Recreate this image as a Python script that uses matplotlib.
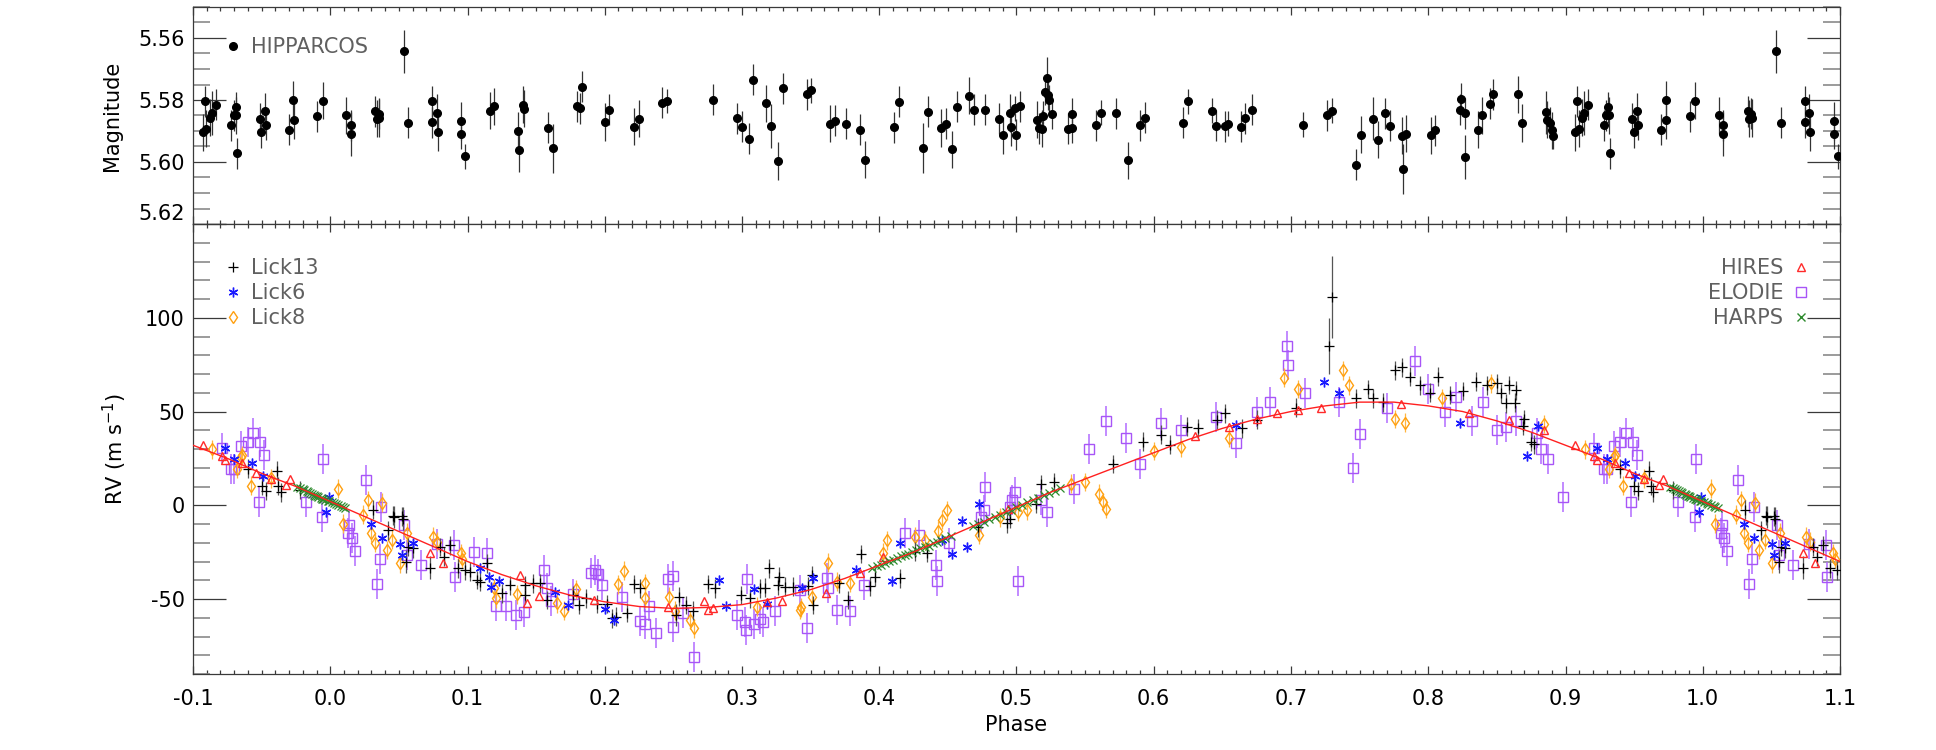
import numpy as np
import matplotlib
matplotlib.use("Agg")
import matplotlib.pyplot as plt
from matplotlib.ticker import MultipleLocator, FormatStrFormatter, FuncFormatter
from matplotlib.lines import Line2D

# ---------------- HIPPARCOS photometry (phase in [0,1)) ----------------
hip_phase = [
    0.0115, 0.0151, 0.0151, 0.0327, 0.0337, 0.0353, 0.0356, 0.0535, 0.0570, 0.0743,
    0.0743, 0.0776, 0.0782, 0.0954, 0.0954, 0.0984, 0.1163, 0.1195, 0.1371, 0.1377,
    0.1403, 0.1410, 0.1589, 0.1621, 0.1797, 0.1823, 0.1833, 0.2002, 0.2034, 0.2213,
    0.2246, 0.2418, 0.2457, 0.2789, 0.2964, 0.3003, 0.3049, 0.3081, 0.3176, 0.3211,
    0.3260, 0.3296, 0.3472, 0.3504, 0.3644, 0.3676, 0.3758, 0.3860, 0.3898, 0.4107,
    0.4144, 0.4316, 0.4353, 0.4447, 0.4484, 0.4530, 0.4563, 0.4656, 0.4693, 0.4767,
    0.4870, 0.4898, 0.4953, 0.4963, 0.4986, 0.5000, 0.5023, 0.5153, 0.5167, 0.5186,
    0.5195, 0.5205, 0.5223, 0.5233, 0.5237, 0.5256, 0.5377, 0.5405, 0.5405, 0.5581,
    0.5614, 0.5726, 0.5809, 0.5898, 0.5935, 0.6214, 0.6247, 0.6423, 0.6456, 0.6516,
    0.6544, 0.6633, 0.6665, 0.6716, 0.7088, 0.7265, 0.7298, 0.7474, 0.7507, 0.7600,
    0.7633, 0.7684, 0.7721, 0.7809, 0.7819, 0.7837, 0.8019, 0.8051, 0.8233, 0.8237,
    0.8265, 0.8265, 0.8363, 0.8395, 0.8447, 0.8474, 0.8651, 0.8684, 0.8860, 0.8865,
    0.8888, 0.8902, 0.8907, 0.9070, 0.9084, 0.9098, 0.9121, 0.9135, 0.9167, 0.9279,
    0.9298, 0.9312, 0.9316, 0.9321, 0.9488, 0.9498, 0.9521, 0.9530, 0.9698, 0.9730,
    0.9735, 0.9907, 0.9944]
hip_mag = [
    5.5849, 5.5882, 5.5910, 5.5837, 5.5860, 5.5845, 5.5858, 5.5643, 5.5873, 5.5804,
    5.5871, 5.5842, 5.5904, 5.5868, 5.5909, 5.5981, 5.5834, 5.5820, 5.5900, 5.5961,
    5.5815, 5.5828, 5.5890, 5.5956, 5.5820, 5.5827, 5.5758, 5.5871, 5.5832, 5.5886,
    5.5860, 5.5809, 5.5803, 5.5799, 5.5859, 5.5886, 5.5925, 5.5734, 5.5810, 5.5884,
    5.5997, 5.5762, 5.5782, 5.5769, 5.5876, 5.5867, 5.5876, 5.5896, 5.5992, 5.5888,
    5.5805, 5.5955, 5.5838, 5.5890, 5.5877, 5.5959, 5.5822, 5.5786, 5.5831, 5.5832,
    5.5860, 5.5914, 5.5842, 5.5887, 5.5827, 5.5912, 5.5820, 5.5863, 5.5891, 5.5893,
    5.5852, 5.5775, 5.5730, 5.5783, 5.5801, 5.5844, 5.5892, 5.5889, 5.5845, 5.5882,
    5.5841, 5.5842, 5.5995, 5.5881, 5.5858, 5.5874, 5.5804, 5.5834, 5.5883, 5.5885,
    5.5877, 5.5886, 5.5859, 5.5831, 5.5880, 5.5849, 5.5835, 5.6009, 5.5912, 5.5860,
    5.5928, 5.5842, 5.5883, 5.5915, 5.6023, 5.5909, 5.5914, 5.5898, 5.5832, 5.5796,
    5.5843, 5.5984, 5.5896, 5.5849, 5.5812, 5.5782, 5.5782, 5.5874, 5.5840, 5.5863,
    5.5874, 5.5898, 5.5917, 5.5904, 5.5804, 5.5892, 5.5857, 5.5842, 5.5815, 5.5882,
    5.5850, 5.5823, 5.5850, 5.5971, 5.5860, 5.5904, 5.5837, 5.5880, 5.5896, 5.5799,
    5.5866, 5.5853, 5.5802]
hip_err = [
    .006, .005, .007, .005, .006, .005, .006, .007, .005, .005,
    .005, .006, .006, .006, .005, .004, .006, .006, .006, .007,
    .006, .006, .005, .008, .005, .005, .005, .006, .005, .006,
    .006, .005, .004, .005, .005, .005, .005, .005, .006, .007,
    .006, .005, .005, .004, .006, .005, .005, .005, .006, .005,
    .005, .008, .005, .006, .005, .006, .005, .006, .005, .005,
    .005, .006, .006, .006, .004, .005, .005, .006, .005, .006,
    .005, .004, .007, .005, .005, .005, .005, .005, .005, .005,
    .004, .005, .006, .005, .005, .005, .004, .004, .005, .005,
    .004, .005, .005, .005, .004, .005, .004, .005, .006, .007,
    .006, .005, .005, .006, .008, .006, .006, .005, .005, .005,
    .005, .007, .006, .006, .005, .005, .006, .006, .007, .006,
    .005, .006, .004, .006, .005, .006, .006, .007, .005, .005,
    .005, .005, .006, .005, .005, .005, .006, .005, .005, .006,
    .006, .005, .006]

# ---------------- Radial velocities (phase in [0,1), m/s) ----------------
lick13_phase = [
    0.031, 0.0424, 0.046, 0.0467, 0.052, 0.053, 0.0555, 0.057, 0.060, 0.073,
    0.080, 0.083, 0.0876, 0.093, 0.098, 0.102, 0.107, 0.109, 0.114, 0.125,
    0.131, 0.142, 0.142, 0.148, 0.153, 0.158, 0.177, 0.181, 0.186, 0.194,
    0.202, 0.205, 0.208, 0.216, 0.221, 0.226, 0.252, 0.254, 0.259, 0.264,
    0.275, 0.280, 0.299, 0.306, 0.313, 0.317, 0.320, 0.326, 0.327, 0.331,
    0.337, 0.348, 0.351, 0.352, 0.371, 0.377, 0.387, 0.393, 0.397, 0.415,
    0.426, 0.435, 0.472, 0.493, 0.495, 0.514, 0.518, 0.527, 0.570, 0.592,
    0.605, 0.612, 0.624, 0.632, 0.646, 0.652, 0.664, 0.675, 0.704, 0.728,
    0.730, 0.747, 0.756, 0.760, 0.767, 0.776, 0.781, 0.787, 0.794, 0.801,
    0.807, 0.816, 0.825, 0.835, 0.843, 0.850, 0.853, 0.857, 0.859, 0.863,
    0.864, 0.869, 0.870, 0.875, 0.877, 0.940, 0.950, 0.953, 0.961, 0.962,
    0.964, 0.978]
lick13_rv = [
    -2.3, -13.3, -5.5, -6.2, -5.8, -7.1, -30.1, -22.2, -23.0, -33.2,
    -22.2, -27.5, -21.3, -33.7, -34.6, -35.5, -39.9, -40.8, -31.0, -47.0,
    -42.6, -42.6, -47.9, -41.7, -41.7, -50.5, -47.9, -53.2, -49.6, -52.7,
    -52.7, -60.3, -59.4, -57.3, -42.0, -44.3, -58.5, -48.8, -53.2, -56.2,
    -42.0, -44.3, -47.9, -49.6, -44.3, -44.0, -33.7, -42.6, -38.1, -43.4,
    -43.4, -43.1, -37.2, -53.2, -41.7, -50.5, -26.0, -43.3, -38.0, -38.9,
    -24.7, -25.3, -11.8, -9.7, -7.1, 0.9, 11.1, 12.4, 22.0, 34.0,
    37.6, 32.4, 42.0, 41.0, 45.6, 49.0, 41.0, 45.6, 52.0, 85.0,
    111.0, 57.0, 62.0, 57.0, 55.0, 72.0, 73.6, 68.6, 64.0, 60.0,
    68.6, 58.8, 61.0, 66.0, 64.0, 65.0, 59.7, 54.3, 64.1, 54.7,
    61.4, 42.3, 45.8, 33.9, 32.6, 19.6, 10.4, 7.6, 18.4, 10.3,
    6.9, 8.2]
lick13_err = [
    5, 5, 5, 6, 5, 6, 6, 5, 5, 6,
    5, 5, 5, 5, 5, 5, 5, 5, 5, 5,
    5, 5, 5, 5, 5, 5, 5, 5, 5, 5,
    5, 5, 5, 5, 5, 5, 6, 5, 5, 5,
    5, 5, 5, 5, 5, 5, 5, 5, 5, 5,
    5, 5, 5, 5, 5, 5, 5, 5, 5, 5,
    5, 5, 5, 5, 5, 5, 5, 5, 5, 5,
    5, 5, 5, 5, 5, 5, 5, 5, 5, 15,
    22, 5, 5, 5, 5, 5, 5, 5, 5, 5,
    5, 5, 5, 5, 5, 5, 5, 5, 5, 5,
    5, 5, 5, 5, 5, 5, 5, 5, 5, 5,
    5, 5]

lick6_phase = [
    0.030, 0.0376, 0.0506, 0.0522, 0.060, 0.109, 0.116, 0.117, 0.123, 0.164,
    0.173, 0.200, 0.207, 0.283, 0.288, 0.309, 0.318, 0.344, 0.352, 0.383,
    0.409, 0.415, 0.446, 0.453, 0.460, 0.464, 0.473, 0.660, 0.724, 0.735,
    0.823, 0.872, 0.880, 0.923, 0.930, 0.943, 0.951, 0.997, 0.999]
lick6_rv = [
    -10.1, -17.2, -20.4, -26.6, -20.0, -33.2, -38.1, -43.8, -40.2, -46.1,
    -53.2, -55.3, -61.2, -39.9, -53.7, -44.7, -52.7, -44.3, -39.0, -34.5,
    -40.6, -20.0, -18.6, -26.0, -8.3, -22.1, 0.5, 43.0, 66.0, 60.0,
    44.0, 26.3, 42.3, 30.7, 24.6, 22.7, 15.6, -3.6, 4.2]

lick8_phase = [
    0.006, 0.009, 0.024, 0.0278, 0.030, 0.0327, 0.038, 0.041, 0.045, 0.0506,
    0.056, 0.075, 0.078, 0.095, 0.096, 0.119, 0.121, 0.136, 0.165, 0.170,
    0.179, 0.210, 0.214, 0.229, 0.229, 0.247, 0.251, 0.262, 0.265, 0.311,
    0.342, 0.343, 0.351, 0.363, 0.369, 0.379, 0.403, 0.406, 0.426, 0.433,
    0.443, 0.446, 0.449, 0.473, 0.488, 0.501, 0.508, 0.540, 0.550, 0.560,
    0.563, 0.565, 0.600, 0.620, 0.655, 0.695, 0.705, 0.738, 0.742, 0.776,
    0.783, 0.810, 0.846, 0.884, 0.914, 0.932, 0.935, 0.936, 0.942, 0.957]
lick8_rv = [
    8.8, -9.8, -5.0, 2.8, -14.7, -19.9, 1.4, -23.9, -18.3, -31.0,
    -14.7, -16.8, -19.5, -25.7, -28.7, -44.3, -49.6, -47.5, -52.3, -56.2,
    -44.9, -42.2, -34.9, -41.7, -49.6, -48.8, -56.2, -61.2, -65.6, -54.1,
    -55.9, -54.4, -48.8, -30.7, -40.8, -41.5, -25.3, -18.6, -16.8, -18.6,
    -13.6, -7.6, -2.7, -15.9, -6.5, -3.5, -2.7, 11.5, 12.4, 6.2,
    1.8, -1.8, 29.0, 31.0, 36.0, 68.0, 62.0, 72.0, 64.0, 46.0,
    44.0, 57.0, 65.0, 43.3, 29.9, 19.6, 25.6, 26.8, 10.4, 14.3]
lick8_err = 5.0

hires_phase = [
    0.073, 0.082, 0.138, 0.1436, 0.152, 0.192, 0.246, 0.272, 0.275, 0.279,
    0.318, 0.329, 0.361, 0.386, 0.403, 0.494, 0.630, 0.655, 0.675, 0.690,
    0.705, 0.722, 0.780, 0.830, 0.859, 0.884, 0.907, 0.921, 0.923, 0.936,
    0.946, 0.957, 0.968, 0.971]
hires_rv = [
    -25.4, -31.0, -37.2, -52.3, -48.2, -50.5, -54.1, -50.9, -55.9, -55.0,
    -51.4, -50.9, -46.6, -35.9, -27.7, -1.8, 37.0, 42.0, 46.0, 49.0,
    51.0, 52.0, 54.0, 49.0, 45.5, 40.1, 31.9, 26.3, 24.1, 22.4,
    17.0, 14.2, 10.8, 13.8]

elodie_phase = [
    0.0132, 0.0138, 0.0155, 0.018, 0.026, 0.0337, 0.036, 0.037, 0.054, 0.0557,
    0.0659, 0.0776, 0.090, 0.0906, 0.105, 0.114, 0.121, 0.128, 0.135, 0.141,
    0.156, 0.158, 0.161, 0.177, 0.190, 0.193, 0.195, 0.198, 0.2125, 0.226,
    0.229, 0.232, 0.237, 0.246, 0.250, 0.250, 0.257, 0.265, 0.296, 0.302,
    0.303, 0.304, 0.309, 0.313, 0.315, 0.324, 0.342, 0.347, 0.362, 0.363,
    0.369, 0.379, 0.389, 0.419, 0.429, 0.441, 0.442, 0.451, 0.474, 0.476,
    0.477, 0.495, 0.497, 0.499, 0.501, 0.518, 0.522, 0.542, 0.553, 0.565,
    0.580, 0.590, 0.605, 0.620, 0.645, 0.660, 0.675, 0.685, 0.697, 0.698,
    0.710, 0.735, 0.745, 0.750, 0.770, 0.790, 0.800, 0.812, 0.820, 0.832,
    0.840, 0.850, 0.857, 0.864, 0.879, 0.882, 0.887, 0.898, 0.921, 0.928,
    0.930, 0.935, 0.940, 0.944, 0.948, 0.949, 0.952, 0.982, 0.994, 0.995]
elodie_rv = [
    -14.7, -10.6, -17.7, -24.5, 13.6, -42.2, -28.7, -0.9, -10.3, -26.6,
    -31.6, -20.4, -21.3, -38.5, -24.8, -25.4, -53.7, -53.5, -58.5, -56.7,
    -34.6, -44.3, -50.9, -47.5, -36.3, -34.6, -36.9, -42.6, -48.8, -61.5,
    -63.3, -53.5, -68.3, -39.5, -37.8, -64.7, -57.6, -80.7, -58.5, -62.1,
    -66.5, -39.5, -63.3, -60.8, -62.1, -56.4, -45.2, -65.6, -39.0, -44.3,
    -55.9, -56.5, -42.4, -14.7, -15.9, -31.8, -40.6, -20.3, -6.2, -2.3,
    9.7, -0.9, 2.7, 7.1, -40.6, 2.7, -3.5, 8.8, 30.0, 45.0,
    36.0, 22.0, 44.0, 40.0, 47.0, 33.0, 50.0, 55.0, 85.0, 75.0,
    60.0, 55.0, 20.0, 38.0, 52.0, 77.0, 62.0, 50.0, 58.0, 45.0,
    55.0, 40.0, 41.9, 44.8, 38.7, 29.9, 24.9, 4.5, 30.7, 19.6,
    19.6, 31.8, 33.9, 38.7, 1.7, 33.5, 26.8, 1.7, -6.1, 24.9]
elodie_err = 8.0

harps_phase = [
    0.976, 0.978, 0.980, 0.981, 0.983, 0.984, 0.985, 0.987, 0.988, 0.989,
    0.990, 0.991, 0.993, 0.994, 0.995, 0.996, 0.998, 0.999, 0.001, 0.003,
    0.004, 0.006, 0.008, 0.009, 0.011,
    0.395, 0.398, 0.401, 0.404, 0.407, 0.410, 0.413, 0.416, 0.419, 0.421,
    0.424, 0.427, 0.430, 0.433, 0.436, 0.439, 0.442, 0.445, 0.448, 0.452,
    0.468, 0.472, 0.476, 0.480, 0.484, 0.488, 0.492, 0.496, 0.500, 0.504,
    0.508, 0.512, 0.516, 0.520, 0.524, 0.528, 0.532]
harps_rv = [
    9.8, 9.2, 8.6, 8.0, 7.4, 7.1, 6.6, 6.0, 5.6, 5.2,
    4.9, 4.6, 4.0, 3.6, 3.3, 3.0, 2.4, 2.1, 1.6, 1.0,
    0.6, 0.0, -0.6, -1.0, -1.6,
    -33.5, -32.5, -31.7, -30.8, -29.8, -29.0, -28.0, -27.3, -26.3, -25.8,
    -25.0, -24.0, -23.0, -22.3, -21.5, -20.3, -19.5, -18.6, -17.6, -16.5,
    -11.3, -10.0, -8.7, -7.5, -6.2, -5.0, -3.5, -2.3, -1.0, 0.3,
    1.5, 2.8, 4.0, 5.4, 6.5, 7.8, 9.0]

# orbital fit curve sampled over one period
curve_phase = [
    0.000, 0.025, 0.050, 0.075, 0.100, 0.125, 0.150, 0.175, 0.200, 0.225,
    0.250, 0.275, 0.300, 0.325, 0.350, 0.375, 0.400, 0.425, 0.450, 0.475,
    0.500, 0.525, 0.550, 0.575, 0.600, 0.625, 0.650, 0.675, 0.700, 0.725,
    0.750, 0.775, 0.800, 0.825, 0.850, 0.875, 0.900, 0.925, 0.950, 0.975]
curve_rv = [
    2.0, -6.0, -14.0, -22.0, -30.0, -37.0, -43.0, -48.0, -51.5, -54.0,
    -55.0, -54.5, -53.0, -49.5, -45.0, -39.0, -32.0, -25.0, -17.0, -9.0,
    -1.0, 7.0, 14.0, 21.0, 28.0, 35.0, 41.0, 46.0, 50.0, 53.0,
    55.0, 55.0, 53.0, 50.0, 45.0, 39.0, 32.0, 25.0, 17.0, 10.0]

xmin, xmax = -0.1, 1.1


def wrap(phase, *cols):
    """Repeat phase-folded data over the plotted range [-0.1, 1.1]."""
    ph = np.asarray(phase, float)
    cols = [np.broadcast_to(np.asarray(c, float), ph.shape) for c in cols]
    out_p, out_c = [], [[] for _ in cols]
    for shift in (-1.0, 0.0, 1.0):
        p = ph + shift
        m = (p >= xmin - 1e-9) & (p <= xmax + 1e-9)
        out_p.append(p[m])
        for o, c in zip(out_c, cols):
            o.append(c[m])
    res = [np.concatenate(out_p)] + [np.concatenate(o) for o in out_c]
    order = np.argsort(res[0], kind="stable")
    return [r[order] for r in res]


plt.rcParams["font.family"] = ["DejaVu Sans"]
FS = 15
W, H = 1936, 750
fig = plt.figure(figsize=(W / 100, H / 100), dpi=100)
L, R = 193, 1840
ax1 = fig.add_axes([L / W, 1 - 224 / H, (R - L) / W, 217 / H])
ax2 = fig.add_axes([L / W, 1 - 674 / H, (R - L) / W, 450 / H])

axis_col = "#3a3a3a"
for ax in (ax1, ax2):
    ax.set_xlim(xmin, xmax)
    ax.xaxis.set_major_locator(MultipleLocator(0.1))
    ax.xaxis.set_minor_locator(MultipleLocator(0.01))
    for s in ax.spines.values():
        s.set_color(axis_col)
        s.set_linewidth(0.9)
    ax.tick_params(which="both", direction="in", top=True, right=True,
                   colors=axis_col, labelcolor="black", labelsize=FS, width=0.9)
    ax.tick_params(axis="x", which="major", length=6, pad=11)
    ax.tick_params(axis="x", which="minor", length=3)
    ax.tick_params(axis="y", which="major", length=24, pad=6)
    ax.tick_params(axis="y", which="minor", length=12, color="#8a8a8a", width=1.2)

# ---------- top panel: HIPPARCOS ----------
hp, hm, he = wrap(hip_phase, hip_mag, hip_err)
ax1.errorbar(hp, hm, yerr=he, fmt="o", color="black", ms=5.5, ecolor="#333333",
             elinewidth=0.9, capsize=0, zorder=3)
ax1.set_ylim(5.62, 5.55)
ax1.set_yticks([5.56, 5.58, 5.60, 5.62])
ax1.yaxis.set_minor_locator(MultipleLocator(0.005))
ax1.yaxis.set_major_formatter(FormatStrFormatter("%.2f"))
ax1.tick_params(axis="x", labelbottom=False)
# lowest label sits just above the panel boundary, as in the original
ax1.yaxis.get_major_ticks()[-1].label1.set_verticalalignment("bottom")
ax1.legend([Line2D([], [], marker="o", color="black", ls="none", ms=5.5)],
           ["HIPPARCOS"], loc="upper left", bbox_to_anchor=(0.018, 0.86),
           frameon=False, fontsize=FS, handlelength=1.0, handletextpad=0.35,
           borderpad=0, borderaxespad=0, labelcolor="#606060")

# ---------- bottom panel: RV ----------
ep, ev = wrap(elodie_phase, elodie_rv)
ax2.errorbar(ep, ev, yerr=elodie_err, fmt="s", ms=7, mfc="none", mec="#a855f7",
             mew=1.0, ecolor="#b26bff", elinewidth=1.1, capsize=0, zorder=2)
l8p, l8v = wrap(lick8_phase, lick8_rv)
ax2.errorbar(l8p, l8v, yerr=lick8_err, fmt="d", ms=6, mfc="none", mec="#ffa010",
             mew=1.0, ecolor="#ffb640", elinewidth=0.9, capsize=0, zorder=3)
l13p, l13v, l13e = wrap(lick13_phase, lick13_rv, lick13_err)
ax2.errorbar(l13p, l13v, yerr=l13e, fmt="+", ms=7, color="black", mew=0.9,
             ecolor="#555555", elinewidth=0.9, capsize=0, zorder=4)
l6p, l6v = wrap(lick6_phase, lick6_rv)
ax2.plot(l6p, l6v, ls="none", marker=(6, 2, 0), ms=7, mew=1.0, color="#1a1aff", zorder=5)
hrp, hrv = wrap(hires_phase, hires_rv)
ax2.plot(hrp, hrv, ls="none", marker="^", ms=6, mfc="none", mec="#ff2a2a", mew=1.0, zorder=5)
hap, hav = wrap(harps_phase, harps_rv)
ax2.plot(hap, hav, ls="none", marker="x", ms=6, mew=0.9, color="#2d8a2d", zorder=5)
cp, cv = wrap(curve_phase, curve_rv)
ax2.plot(cp, cv, color="#ff2020", lw=1.0, zorder=6)

ax2.set_ylim(-90, 150)
ax2.yaxis.set_major_locator(MultipleLocator(50))
ax2.yaxis.set_minor_locator(MultipleLocator(10))
ax2.yaxis.set_major_formatter(FuncFormatter(lambda v, pos: "" if v > 120 else "%d" % v))
ax2.xaxis.set_major_formatter(FormatStrFormatter("%.1f"))

left_handles = [Line2D([], [], marker="+", color="black", ls="none", ms=7, mew=0.9),
                Line2D([], [], marker=(6, 2, 0), color="#1a1aff", ls="none", ms=7),
                Line2D([], [], marker="d", mfc="none", mec="#ffa010", ls="none", ms=6)]
leg_l = ax2.legend(left_handles, ["Lick13", "Lick6", "Lick8"], loc="upper left",
                   bbox_to_anchor=(0.018, 0.924), frameon=False, fontsize=FS,
                   handlelength=1.0, handletextpad=0.35, labelspacing=0.24,
                   borderpad=0, borderaxespad=0, labelcolor="#606060")
ax2.add_artist(leg_l)
right_handles = [Line2D([], [], marker="^", mfc="none", mec="#ff2a2a", ls="none", ms=6),
                 Line2D([], [], marker="s", mfc="none", mec="#a855f7", ls="none", ms=7),
                 Line2D([], [], marker="x", color="#2d8a2d", ls="none", ms=6)]
ax2.legend(right_handles, ["HIRES", "ELODIE", "HARPS"], loc="upper right",
           bbox_to_anchor=(0.9826, 0.924), frameon=False, fontsize=FS,
           handlelength=1.0, handletextpad=0.35, labelspacing=0.24, markerfirst=False,
           borderpad=0, borderaxespad=0, labelcolor="#606060")

fig.text((L + R) / 2 / W, 1 - 725 / H, "Phase", ha="center", va="center", fontsize=FS)
fig.text(112 / W, 1 - 115.5 / H, "Magnitude", ha="center", va="center",
         rotation=90, fontsize=FS)
fig.text(115 / W, 1 - 449 / H, r"RV (m s$^{-1}$)", ha="center", va="center",
         rotation=90, fontsize=FS)

fig.savefig("out.png", dpi=100)
